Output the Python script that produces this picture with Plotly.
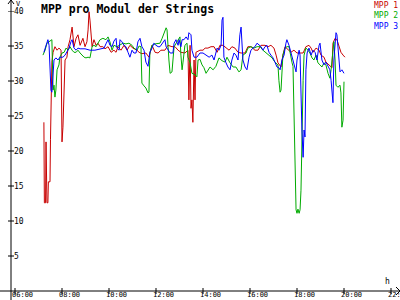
import plotly.graph_objects as go

# ---- data (time in decimal hours, value in V) ----
mpp1 = [(7.23,24.1),(7.25,12.6),(7.30,12.6),(7.32,21.3),(7.36,12.6),(7.40,12.6),(7.42,15.6),(7.49,15.6),
        (7.51,21.6),(7.53,27.3),(7.57,32.7),(7.62,34.1),(7.70,34.9),(7.79,34.4),(7.87,34.7),(7.96,34.4),
        (7.98,21.3),(8.00,21.3),(8.04,23.4),(8.09,30.1),(8.13,33.0),(8.21,33.4),(8.26,34.9),(8.34,35.9),
        (8.43,37.7),(8.51,34.9),(8.60,36.1),(8.68,36.6),(8.77,35.1),(8.89,36.1),(8.98,34.9),(9.06,35.6),
        (9.11,37.3),(9.15,39.9),(9.19,38.7),(9.28,34.9),(9.36,35.9),(9.45,35.1),(9.53,35.4),(9.62,34.9),
        (9.74,34.9),(9.83,34.6),(9.96,34.9),(10.09,34.1),(10.21,34.4),(10.30,34.1),(10.38,34.9),(10.51,34.4),
        (10.64,35.1),(10.77,34.4),(10.89,35.1),(11.02,34.7),(11.19,34.4),(11.28,34.1),(11.40,33.9),(11.57,34.0),
        (11.70,33.4),(11.83,35.1),(11.96,34.1),(12.09,34.0),(12.21,34.4),(12.38,34.4),(12.51,35.1),(12.68,34.9),
        (12.81,34.9),(12.94,34.4),(13.06,34.1),(13.23,34.0),(13.36,34.4),(13.40,27.3),(13.45,35.1),(13.49,26.1),
        (13.53,27.3),(13.57,24.1),(13.62,33.0),(13.66,27.3),(13.70,34.1),(13.87,34.4),(14.00,34.4),(14.09,34.7),
        (14.21,34.7),(14.34,34.9),(14.47,34.9),(14.60,34.1),(14.72,35.1),(14.85,35.1),(14.98,34.7),(15.11,34.4),
        (15.23,34.9),(15.36,34.7),(15.49,34.1),(15.62,34.0),(15.79,34.0),(15.91,34.9),(16.04,34.9),(16.21,34.4),
        (16.34,34.4),(16.47,35.1),(16.64,35.1),(16.77,34.9),(16.89,35.1),(17.02,34.7),(17.11,33.7),(17.19,32.6),
        (17.32,32.0),(17.40,33.7),(17.49,34.9),(17.62,34.4),(17.74,34.1),(17.87,34.4),(18.00,34.0),(18.13,34.0),
        (18.26,34.0),(18.38,34.9),(18.51,35.1),(18.60,34.7),(18.68,34.1),(18.81,34.7),(18.94,34.4),(19.02,33.7),
        (19.15,33.4),(19.23,32.7),(19.36,32.3),(19.49,31.9),(19.53,35.4),(19.62,36.1),(19.70,35.9),(19.79,35.1),
        (19.87,34.1),(19.96,33.7),(20.04,33.4)]

mpp2 = [(7.19,33.7),(7.28,34.4),(7.36,35.4),(7.45,35.6),(7.53,35.9),(7.57,35.9),(7.62,28.7),(7.66,29.4),
        (7.70,27.7),(7.74,28.7),(7.79,31.6),(7.87,32.3),(7.91,33.4),(8.00,34.0),(8.09,34.1),(8.17,34.7),
        (8.26,34.4),(8.34,34.9),(8.43,34.4),(8.51,34.1),(8.60,34.1),(8.68,34.4),(8.77,34.0),(8.85,33.7),
        (8.94,33.4),(9.02,33.3),(9.11,33.4),(9.19,33.3),(9.28,34.9),(9.36,35.1),(9.45,34.9),(9.53,35.4),
        (9.62,35.9),(9.74,36.1),(9.87,35.9),(9.96,36.3),(10.04,35.6),(10.13,34.4),(10.21,35.1),(10.34,34.9),
        (10.47,35.1),(10.60,35.4),(10.72,35.3),(10.85,35.4),(10.98,35.1),(11.06,34.7),(11.19,34.4),(11.28,35.0),
        (11.36,34.9),(11.40,29.7),(11.49,29.3),(11.57,29.0),(11.66,28.3),(11.70,28.4),(11.74,34.0),(11.83,35.1),
        (11.96,35.3),(12.09,35.4),(12.17,35.4),(12.26,36.1),(12.34,36.9),(12.43,37.6),(12.47,37.3),(12.51,34.4),
        (12.55,33.0),(12.60,31.1),(12.68,31.3),(12.77,34.9),(12.85,35.3),(12.94,35.9),(13.02,36.3),(13.06,33.7),
        (13.11,31.6),(13.15,32.7),(13.23,35.1),(13.32,35.4),(13.36,33.4),(13.45,32.6),(13.53,31.1),(13.66,30.9),
        (13.74,30.6),(13.79,33.0),(13.87,33.1),(13.96,32.3),(14.04,31.9),(14.13,31.1),(14.21,31.6),(14.30,32.0),
        (14.43,31.6),(14.55,32.1),(14.68,33.3),(14.81,32.9),(14.94,32.7),(15.02,33.4),(15.15,32.6),(15.28,32.0),
        (15.40,32.0),(15.53,31.3),(15.62,31.6),(15.70,33.7),(15.83,34.0),(15.91,34.7),(16.04,34.9),(16.17,34.7),
        (16.30,34.9),(16.43,34.9),(16.55,34.4),(16.68,34.0),(16.81,33.7),(16.94,33.3),(17.06,32.7),(17.19,32.3),
        (17.23,30.1),(17.28,28.4),(17.32,28.7),(17.36,30.9),(17.40,33.7),(17.49,34.7),(17.57,34.9),(17.66,34.9),
        (17.70,34.0),(17.79,32.6),(17.83,32.1),(17.87,26.1),(17.91,17.3),(17.96,11.6),(18.00,11.1),(18.04,11.7),
        (18.09,11.1),(18.13,11.6),(18.17,14.4),(18.21,24.4),(18.26,30.1),(18.30,33.7),(18.38,34.7),(18.47,34.4),
        (18.55,34.0),(18.64,33.3),(18.72,33.0),(18.81,33.7),(18.89,32.6),(18.98,32.3),(19.06,32.0),(19.15,32.6),
        (19.23,32.3),(19.32,31.1),(19.40,30.4),(19.45,31.6),(19.53,35.1),(19.57,35.6),(19.62,33.0),(19.66,29.4),
        (19.74,29.1),(19.83,29.4),(19.87,28.3),(19.91,23.4),(19.96,24.4),(20.00,29.9)]

mpp3 = [(7.23,34.1),(7.32,35.1),(7.40,35.9),(7.45,35.1),(7.49,30.1),(7.53,28.7),(7.57,28.4),(7.62,31.6),
        (7.66,33.0),(7.74,33.3),(7.83,33.0),(7.91,33.4),(8.04,33.4),(8.13,33.7),(8.21,34.1),(8.30,34.7),
        (8.38,35.6),(8.43,35.9),(8.51,34.7),(8.60,34.4),(8.68,34.7),(8.77,34.6),(8.98,34.6),(9.19,34.4),
        (9.40,34.4),(9.62,34.6),(9.79,34.7),(9.87,35.3),(9.96,35.9),(10.04,35.1),(10.13,34.9),(10.21,35.7),
        (10.30,36.1),(10.34,34.7),(10.43,34.4),(10.47,35.9),(10.55,35.6),(10.64,35.1),(10.72,34.9),(10.81,34.1),
        (10.89,33.4),(10.98,34.4),(11.06,34.0),(11.15,34.0),(11.23,35.6),(11.32,36.1),(11.40,34.9),(11.49,34.4),
        (11.57,32.7),(11.66,32.1),(11.74,34.1),(11.83,34.7),(11.91,35.4),(12.00,35.1),(12.09,34.9),(12.17,34.9),
        (12.30,35.6),(12.38,35.9),(12.43,34.9),(12.51,34.4),(12.60,34.0),(12.72,34.0),(12.77,35.4),(12.85,35.9),
        (12.94,35.1),(12.98,35.9),(13.06,34.9),(13.11,35.9),(13.19,35.9),(13.28,36.3),(13.36,35.9),(13.40,36.9),
        (13.49,36.6),(13.53,34.4),(13.62,33.4),(13.74,33.4),(13.87,34.0),(14.00,34.0),(14.13,33.7),(14.26,33.4),
        (14.38,33.7),(14.47,33.0),(14.60,34.7),(14.68,34.4),(14.77,35.1),(14.81,38.7),(14.85,39.1),(14.89,33.4),
        (14.98,32.6),(15.06,32.0),(15.15,31.6),(15.23,33.0),(15.32,34.0),(15.40,33.7),(15.49,33.0),(15.53,35.1),
        (15.57,36.6),(15.62,37.7),(15.66,35.9),(15.70,33.0),(15.79,32.0),(15.87,31.6),(15.96,33.4),(16.04,34.4),
        (16.13,34.7),(16.21,34.9),(16.30,35.4),(16.38,35.1),(16.47,34.9),(16.55,34.4),(16.64,34.9),(16.72,35.1),
        (16.81,34.1),(16.89,33.7),(16.98,33.3),(17.06,32.7),(17.15,32.0),(17.23,31.9),(17.28,31.6),(17.36,33.0),
        (17.45,33.7),(17.53,35.4),(17.57,35.9),(17.66,35.1),(17.74,34.1),(17.83,33.0),(17.91,31.9),(17.96,31.3),
        (18.00,33.0),(18.09,34.4),(18.13,33.7),(18.17,27.3),(18.21,23.0),(18.26,19.1),(18.30,23.0),(18.34,22.0),
        (18.38,31.6),(18.43,34.0),(18.51,34.7),(18.60,33.7),(18.68,34.4),(18.77,34.1),(18.85,33.0),(18.94,35.1),
        (18.98,35.4),(19.06,33.0),(19.15,32.3),(19.23,32.7),(19.32,32.0),(19.40,31.6),(19.45,30.1),(19.49,28.7),
        (19.53,26.9),(19.57,33.0),(19.62,35.9),(19.66,36.9),(19.70,36.6),(19.74,35.1),(19.79,32.6),(19.83,31.3),
        (19.91,31.6),(20.00,31.1)]

series_names = ["MPP 1", "MPP 2", "MPP 3"]
series_colors = ["#c80000", "#00aa00", "#0000ff"]
x_tick_vals = [6, 8, 10, 12, 14, 16, 18, 20, 22]
x_tick_text = ["06:00", "08:00", "10:00", "12:00", "14:00", "16:00", "18:00", "20:00", "22:00"]
y_tick_vals = [5, 10, 15, 20, 25, 30, 35, 40]
y_tick_text = ["5", "10", "15", "20", "25", "30", "35", "40"]
title_text = "MPP pro Modul der Strings"

X_RANGE = [5.83, 22.383]
Y_RANGE = [0, 40]
W, H = 400, 300
ML, MR, MT, MB = 11, 0, 11, 9
PW, PH = W - ML - MR, H - MT - MB
FONT = "DejaVu Sans Mono"


def px(xp):
    return (xp - ML) / PW


def py(yp):
    return (H - MB - yp) / PH


fig = go.Figure()
for name, data, color in zip(series_names, [mpp1, mpp2, mpp3], series_colors):
    t, v = zip(*data)
    fig.add_trace(go.Scatter(x=list(t), y=list(v), mode="lines", name=name,
                             line=dict(color=color, width=1), showlegend=False,
                             hoverinfo="skip"))

shapes = []
line_style = dict(color="black", width=1)
# axis lines (crossing)
shapes.append(dict(type="line", xref="paper", yref="paper", x0=px(11), x1=px(11), y0=py(300), y1=py(0), line=line_style))
shapes.append(dict(type="line", xref="paper", yref="paper", x0=px(0), x1=px(400), y0=py(291), y1=py(291), line=line_style))
# arrow heads
shapes.append(dict(type="path", xref="paper", yref="paper",
                   path=f"M {px(8)},{py(4)} L {px(11)},{py(0)} L {px(14)},{py(4)}", line=line_style))
shapes.append(dict(type="path", xref="paper", yref="paper",
                   path=f"M {px(396)},{py(287)} L {px(400)},{py(291)} L {px(396)},{py(295)}", line=line_style))
# tick marks crossing the axes
for tv in x_tick_vals:
    shapes.append(dict(type="line", xref="x", yref="paper", ysizemode="pixel", yanchor=0,
                       x0=tv, x1=tv, y0=-3, y1=3, line=line_style))
for tv in y_tick_vals:
    shapes.append(dict(type="line", yref="y", xref="paper", xsizemode="pixel", xanchor=0,
                       y0=tv, y1=tv, x0=-3, x1=3, line=line_style))

legend_text = "<br>".join(f'<span style="color:{c}">{n}</span>' for n, c in zip(series_names, series_colors))

annotations = [
    dict(text=f"<b>{title_text}</b>", xref="paper", yref="paper", x=px(39), y=py(8.5),
         xanchor="left", yanchor="middle", showarrow=False,
         font=dict(family=FONT, size=11.5, color="black")),
    dict(text="V", xref="paper", yref="paper", x=px(18), y=py(3.5), xanchor="center", yanchor="middle",
         showarrow=False, font=dict(family=FONT, size=7, color="black")),
    dict(text="h", xref="paper", yref="paper", x=px(387), y=py(281), xanchor="center", yanchor="middle",
         showarrow=False, font=dict(family=FONT, size=8, color="black")),
    dict(text=legend_text, xref="paper", yref="paper", x=px(399), y=py(0), xanchor="right", yanchor="top",
         align="left", showarrow=False, borderpad=0,
         font=dict(family=FONT, size=8, color="black")),
]
# x tick labels, starting just left of each tick, sitting on the bottom edge
for tv, tt in zip(x_tick_vals, x_tick_text):
    annotations.append(dict(text=tt, xref="x", yref="paper", x=tv, xshift=-4, y=py(300),
                            xanchor="left", yanchor="bottom", showarrow=False, borderpad=0,
                            font=dict(family=FONT, size=7, color="black")))

fig.update_layout(
    width=W, height=H,
    margin=dict(l=ML, r=MR, t=MT, b=MB, pad=0, autoexpand=False),
    paper_bgcolor="white", plot_bgcolor="white",
    shapes=shapes, annotations=annotations,
    xaxis=dict(range=X_RANGE, showgrid=False, zeroline=False, showline=False,
               showticklabels=False, ticks="", automargin=False),
    yaxis=dict(range=Y_RANGE, showgrid=False, zeroline=False, showline=False,
               tickmode="array", tickvals=y_tick_vals, ticktext=y_tick_text, ticks="",
               ticklabelposition="inside", tickfont=dict(family=FONT, size=8, color="black"),
               ticklabelstandoff=0, ticklabeloverflow="allow", automargin=False),
)

fig.write_html("out.html")
